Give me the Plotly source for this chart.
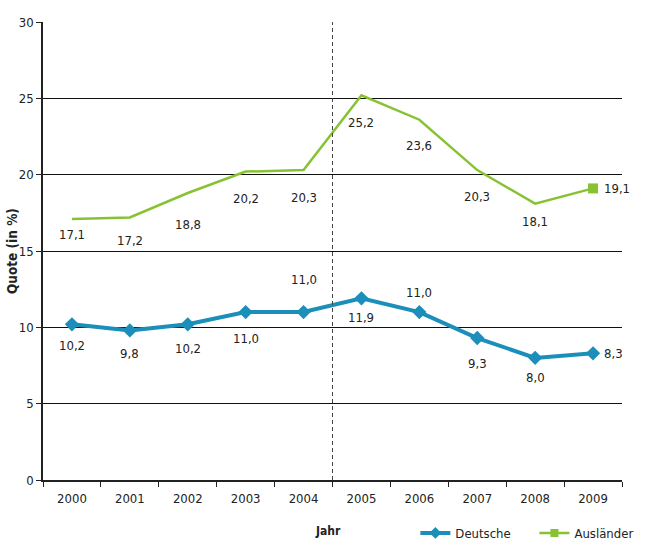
import plotly.graph_objects as go

years = ["2000", "2001", "2002", "2003", "2004", "2005", "2006", "2007", "2008", "2009"]
deutsche = [10.2, 9.8, 10.2, 11.0, 11.0, 11.9, 11.0, 9.3, 8.0, 8.3]
auslaender = [17.1, 17.2, 18.8, 20.2, 20.3, 25.2, 23.6, 20.3, 18.1, 19.1]

# label offsets (pixels) for the data labels
d_yshift = [-21, -23, -24, -26, 33, -19, 20, -25, -20, 0]
d_xshift = [0, 0, 0, 0, 0, 0, 0, 0, 0, 9]
a_yshift = [-16, -23, -32, -27, -27, -27, -26, -26, -18, 0]
a_xshift = [0, 0, 0, 0, 0, 0, 0, 0, 0, 9]

BLUE = "#1b8fb9"
GREEN = "#87c232"
FONT = "DejaVu Sans Condensed, Liberation Sans Narrow, sans-serif"
TXT = "#222"

fig = go.Figure()
fig.add_trace(go.Scatter(
    x=years, y=deutsche, mode="lines+markers", name="Deutsche",
    line=dict(color=BLUE, width=4),
    marker=dict(symbol="diamond", size=11, color=BLUE),
    showlegend=False,
))
fig.add_trace(go.Scatter(
    x=years, y=auslaender, mode="lines", name="Ausländer",
    line=dict(color=GREEN, width=2.5),
    showlegend=False,
))
fig.add_trace(go.Scatter(
    x=years[-1:], y=auslaender[-1:], mode="markers", name="Ausländer",
    marker=dict(symbol="square", size=10, color=GREEN),
    showlegend=False,
))
# legend entries
fig.add_trace(go.Scatter(
    x=[None], y=[None], mode="lines+markers", name="Deutsche",
    line=dict(color=BLUE, width=4),
    marker=dict(symbol="diamond", size=9, color=BLUE), legend="legend",
))
fig.add_trace(go.Scatter(
    x=[None], y=[None], mode="lines+markers", name="Ausländer",
    line=dict(color=GREEN, width=2.5),
    marker=dict(symbol="square", size=8, color=GREEN), legend="legend2",
))

def fmt(v):
    return f"{v:.1f}".replace(".", ",")

for i, v in enumerate(deutsche):
    fig.add_annotation(x=i, y=v, text=fmt(v), showarrow=False,
                       xshift=d_xshift[i], yshift=d_yshift[i],
                       xanchor="left" if d_xshift[i] else "center",
                       font=dict(size=13, color=TXT, family=FONT))
for i, v in enumerate(auslaender):
    fig.add_annotation(x=i, y=v, text=fmt(v), showarrow=False,
                       xshift=a_xshift[i], yshift=a_yshift[i],
                       xanchor="left" if a_xshift[i] else "center",
                       font=dict(size=13, color=TXT, family=FONT))

fig.add_shape(type="line", xref="x", yref="y", x0=4.5, x1=4.5, y0=0, y1=30,
              line=dict(color="#444", width=1, dash="4px,3px"))

fig.add_annotation(xref="paper", yref="paper", x=0.493, y=-0.111,
                   xanchor="center", yanchor="middle",
                   text="<b>Jahr</b>", showarrow=False,
                   font=dict(size=12, color=TXT, family=FONT))
fig.add_annotation(xref="paper", yref="paper", x=-0.0535, y=0.5, textangle=-90,
                   xanchor="center", yanchor="middle",
                   text="<b>Quote (in %)</b>", showarrow=False,
                   font=dict(size=13.5, color=TXT, family=FONT))

legend_common = dict(orientation="h", xref="container", yref="container",
                     yanchor="middle", y=0.038, xanchor="left",
                     font=dict(size=13, family=FONT, color=TXT), itemwidth=30,
                     bgcolor="rgba(0,0,0,0)", borderwidth=0)

fig.update_layout(
    width=647, height=554,
    margin=dict(l=43, r=25, t=22, b=74),
    paper_bgcolor="white", plot_bgcolor="white",
    font=dict(family=FONT, size=13, color=TXT),
    legend=dict(x=0.642, **legend_common),
    legend2=dict(x=0.826, **legend_common),
    xaxis=dict(type="category", showgrid=False, showline=True, linecolor="#222", linewidth=1.5,
               ticks="outside", tickson="boundaries", ticklen=5, tickcolor="#222",
               tickfont=dict(size=13, family=FONT), range=[-0.5, 9.5], tickangle=0,
               ticklabelstandoff=6, automargin=False),
    yaxis=dict(range=[0, 30], tickvals=[0, 5, 10, 15, 20, 25, 30], showgrid=True,
               gridcolor="#111", gridwidth=1, showline=True, linecolor="#222", linewidth=1.5,
               ticks="outside", ticklen=5, tickcolor="#222", zeroline=False,
               tickfont=dict(size=13, family=FONT), automargin=False),
)

fig.write_html("out.html")
